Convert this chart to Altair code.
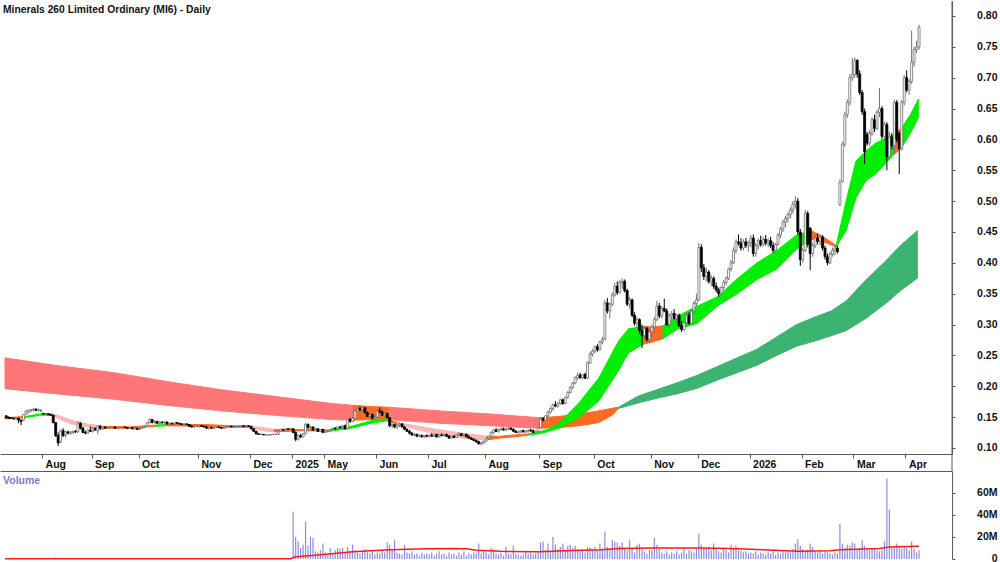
import altair as alt
import pandas as pd

TITLE = "Minerals 260 Limited Ordinary (MI6) - Daily"
MONTH_LABELS = ["Jul", "Aug", "Sep", "Oct", "Nov", "Dec", "2025", "May", "Jun", "Jul",
                "Aug", "Sep", "Oct", "Nov", "Dec", "2026", "Feb", "Mar", "Apr"]

# daily bars per month: (open, high, low, close, volume in millions)
JUL24 = [(.152,.153,.148,.149,.3),(.150,.151,.147,.148,.2),(.149,.150,.147,.148,.3),(.148,.149,.146,.147,.2),
         (.147,.149,.145,.148,.4),(.148,.149,.140,.145,.5),(.145,.146,.137,.143,.6),(.145,.155,.144,.154,.5),
         (.155,.161,.154,.160,.7),(.158,.162,.156,.161,.4),(.160,.163,.158,.162,.3),(.161,.165,.159,.163,.4),
         (.163,.164,.160,.161,.3),(.161,.164,.159,.162,.2),(.160,.163,.158,.161,.3)]
AUG24 = [(.156,.157,.154,.155,.3),(.155,.156,.154,.155,.2),(.155,.156,.153,.154,.3),(.154,.155,.152,.153,.4),
         (.153,.154,.140,.141,.8),(.141,.142,.118,.120,1.5),(.120,.125,.103,.108,1.2),(.110,.130,.108,.128,.9),
         (.128,.132,.118,.120,.6),(.121,.128,.117,.126,.5),(.126,.128,.122,.124,.4),(.124,.127,.121,.126,.3),
         (.125,.128,.123,.127,.3),(.127,.129,.124,.126,.4),(.126,.143,.125,.141,.8),(.140,.142,.130,.132,.6),
         (.132,.134,.124,.125,.5),(.125,.128,.122,.124,.4),(.124,.130,.123,.129,.3),(.129,.135,.126,.127,.4)]
SEP24 = [(.127,.134,.125,.132,.3),(.132,.133,.128,.129,.3),(.128,.137,.122,.135,.6),(.135,.137,.130,.131,.4),
         (.131,.135,.129,.134,.3),(.134,.135,.131,.132,.2),(.132,.134,.131,.133,.2),(.133,.134,.132,.133,.2),
         (.133,.135,.132,.134,.3),(.134,.135,.132,.132,.2),(.132,.134,.131,.133,.2),(.133,.134,.132,.133,.3),
         (.133,.135,.132,.134,.2),(.134,.135,.132,.133,.2),(.133,.134,.131,.132,.3),(.132,.134,.131,.133,.2),
         (.133,.134,.130,.131,.4),(.131,.133,.130,.132,.2),(.132,.133,.129,.130,.3)]
OCT24 = [(.130,.133,.129,.132,.3),(.132,.134,.131,.133,.2),(.133,.136,.132,.135,.3),(.135,.142,.134,.141,.6),
         (.141,.148,.140,.146,.8),(.146,.147,.140,.141,.5),(.141,.145,.139,.143,.3),(.143,.144,.139,.140,.3),
         (.140,.143,.138,.142,.2),(.142,.143,.139,.141,.2),(.141,.143,.139,.142,.3),(.142,.143,.138,.139,.2),
         (.139,.141,.138,.140,.2),(.140,.141,.138,.139,.3),(.139,.142,.138,.141,.2),(.141,.142,.139,.140,.2),
         (.140,.141,.138,.139,.3),(.139,.140,.137,.138,.2),(.138,.140,.137,.139,.2),(.139,.140,.137,.138,.3),
         (.138,.139,.134,.135,.4),(.135,.137,.133,.134,.3),(.134,.136,.133,.135,.2),(.135,.136,.134,.135,.2)]
NOV24 = [(.135,.137,.133,.136,.3),(.136,.137,.134,.135,.2),(.135,.136,.133,.134,.2),(.134,.136,.131,.132,.4),
         (.132,.134,.130,.133,.3),(.133,.135,.131,.132,.2),(.132,.134,.131,.133,.2),(.133,.135,.132,.134,.3),
         (.134,.135,.132,.133,.2),(.133,.134,.131,.132,.2),(.132,.134,.131,.133,.3),(.133,.135,.132,.134,.2),
         (.134,.136,.133,.135,.3),(.135,.136,.133,.134,.2),(.134,.135,.133,.134,.2),(.134,.136,.133,.135,.2),
         (.135,.136,.134,.135,.3),(.135,.137,.134,.136,.2),(.136,.137,.134,.135,.2),(.135,.137,.134,.136,.3),
         (.136,.137,.134,.135,.2)]
DEC24 = [(.135,.136,.130,.131,.5),(.131,.132,.126,.127,.4),(.127,.128,.122,.123,.4),(.123,.124,.121,.122,.3),
         (.122,.123,.121,.122,.2),(.122,.122,.121,.121,.2),(.121,.122,.121,.121,.2),(.121,.122,.120,.121,.2),
         (.121,.122,.121,.122,.2),(.122,.123,.121,.122,.2),(.122,.123,.121,.122,.3),(.122,.128,.122,.127,.5),
         (.127,.131,.126,.130,.4),(.130,.131,.128,.129,.3),(.129,.132,.128,.131,.3),(.131,.132,.129,.130,.2),
         (.130,.133,.129,.131,.3)]
JAN25 = [(.131,.132,.124,.125,43),(.125,.127,.111,.114,20),(.114,.122,.112,.120,16),(.120,.123,.116,.118,10),
         (.118,.124,.117,.123,13),(.123,.141,.122,.138,34),(.138,.140,.131,.133,12),(.133,.136,.130,.134,20),
         (.134,.135,.128,.129,19),(.129,.133,.127,.131,7),(.131,.132,.126,.127,6),(.127,.131,.126,.130,8),
         (.130,.131,.124,.125,14)]
MAY25 = [(.125,.128,.124,.127,6),(.127,.129,.125,.128,4),(.128,.131,.127,.130,10),(.130,.133,.129,.132,5),
         (.132,.134,.130,.131,8),(.131,.135,.130,.134,10),(.134,.136,.132,.133,9),(.133,.137,.132,.136,10),
         (.136,.138,.130,.131,6),(.131,.147,.130,.146,11),(.146,.149,.141,.143,7),(.143,.150,.142,.148,13),
         (.148,.163,.147,.160,8),(.160,.166,.158,.164,6),(.164,.167,.160,.162,5),(.162,.166,.159,.165,7),
         (.165,.166,.156,.157,9),(.157,.159,.150,.151,6),(.151,.156,.149,.154,5),(.154,.156,.146,.148,7),
         (.148,.152,.145,.150,4)]
JUN25 = [(.150,.163,.149,.160,6),(.160,.166,.157,.158,5),(.158,.161,.152,.153,8),(.153,.158,.151,.156,6),
         (.156,.157,.148,.149,15),(.149,.150,.134,.136,13),(.136,.140,.132,.138,8),(.138,.139,.132,.134,17),
         (.134,.138,.131,.137,6),(.137,.141,.134,.139,5),(.139,.140,.133,.134,4),(.134,.136,.129,.130,13),
         (.130,.132,.126,.127,6),(.127,.129,.122,.124,5),(.124,.126,.120,.121,7),(.121,.124,.119,.122,4),
         (.122,.123,.118,.119,5),(.119,.122,.117,.120,3),(.120,.122,.117,.118,6),(.118,.121,.116,.120,4),
         (.120,.122,.117,.119,5)]
JUL25 = [(.119,.122,.117,.121,4),(.121,.124,.118,.119,6),(.119,.123,.118,.122,3),(.122,.123,.117,.118,5),
         (.118,.122,.117,.121,7),(.121,.124,.119,.120,4),(.120,.123,.118,.122,5),(.122,.123,.118,.119,3),
         (.119,.121,.115,.116,6),(.116,.120,.115,.119,4),(.119,.121,.116,.117,5),(.117,.122,.116,.121,3),
         (.121,.125,.119,.123,6),(.123,.124,.119,.120,4),(.120,.123,.118,.122,7),(.122,.123,.117,.118,3),
         (.118,.121,.115,.116,5),(.116,.118,.113,.114,4),(.114,.116,.111,.112,6),(.112,.114,.108,.110,5),
         (.110,.112,.105,.107,14),(.107,.110,.104,.108,5),(.108,.112,.106,.111,7)]
AUG25 = [(.111,.116,.110,.115,6),(.115,.119,.113,.118,4),(.118,.127,.117,.125,10),(.125,.131,.123,.129,9),
         (.129,.132,.126,.127,5),(.127,.131,.125,.130,4),(.130,.133,.128,.131,6),(.131,.133,.128,.129,3),
         (.129,.132,.127,.131,11),(.131,.134,.129,.132,5),(.132,.134,.129,.130,4),(.130,.132,.126,.127,12),
         (.127,.129,.124,.125,5),(.125,.128,.123,.126,4),(.126,.129,.124,.128,3),(.128,.130,.125,.126,4),
         (.126,.129,.124,.127,7),(.127,.130,.125,.129,5),(.129,.131,.126,.128,6),(.128,.130,.124,.125,4),
         (.125,.128,.123,.127,5),(.127,.134,.126,.133,7)]
SEP25 = [(.133,.149,.132,.147,15),(.147,.150,.143,.145,16),(.145,.153,.144,.152,8),(.152,.160,.150,.158,14),
         (.158,.166,.156,.164,7),(.164,.172,.160,.170,20),(.170,.176,.166,.168,13),(.168,.174,.165,.172,9),
         (.172,.180,.170,.178,11),(.178,.180,.170,.172,14),(.172,.183,.171,.182,8),(.182,.192,.180,.190,12),
         (.190,.200,.188,.198,13),(.198,.207,.195,.205,10),(.205,.216,.203,.214,12),(.214,.222,.210,.218,9),
         (.218,.222,.212,.214,7),(.214,.220,.211,.219,8),(.219,.222,.212,.213,6),(.213,.240,.212,.238,11),
         (.238,.256,.236,.252,10),(.252,.260,.248,.257,9)]
OCT25 = [(.257,.266,.254,.264,11),(.264,.268,.256,.259,8),(.259,.274,.258,.272,14),(.272,.280,.268,.276,9),
         (.276,.340,.275,.335,25),(.335,.343,.318,.322,11),(.322,.336,.310,.333,9),(.333,.352,.330,.348,17),
         (.348,.368,.345,.362,16),(.362,.370,.348,.352,15),(.352,.372,.350,.368,12),(.368,.375,.358,.370,15),
         (.370,.373,.352,.355,9),(.355,.358,.330,.333,8),(.333,.345,.326,.340,17),(.340,.342,.312,.315,10),
         (.315,.320,.298,.302,6),(.302,.312,.295,.308,13),(.308,.310,.285,.290,14),(.290,.300,.262,.282,9),
         (.282,.298,.275,.294,7),(.294,.296,.272,.276,5),(.276,.292,.270,.288,8)]
NOV25 = [(.288,.300,.280,.296,8),(.296,.312,.292,.308,19),(.308,.338,.305,.330,13),(.330,.335,.310,.314,9),
         (.314,.330,.310,.326,6),(.326,.342,.320,.322,5),(.322,.326,.298,.300,7),(.300,.318,.296,.315,4),
         (.315,.322,.306,.318,6),(.318,.325,.308,.310,5),(.310,.318,.302,.315,7),(.315,.318,.296,.298,4),
         (.298,.305,.288,.292,6),(.292,.306,.289,.303,10),(.303,.318,.300,.315,5),(.315,.320,.300,.302,8),
         (.302,.325,.300,.322,7),(.322,.338,.318,.334,6),(.334,.350,.330,.340,9)]
DEC25 = [(.340,.432,.338,.425,23),(.425,.430,.385,.392,13),(.392,.398,.372,.378,10),(.378,.392,.370,.385,9),
         (.385,.388,.366,.370,11),(.370,.380,.362,.375,8),(.375,.378,.358,.362,14),(.362,.368,.352,.356,9),
         (.356,.360,.345,.350,7),(.350,.362,.347,.360,6),(.360,.372,.356,.368,10),(.368,.378,.364,.375,8),
         (.375,.392,.372,.390,6),(.390,.405,.386,.400,13),(.400,.425,.398,.420,9),(.420,.438,.415,.434,12),
         (.434,.446,.428,.432,8),(.432,.440,.420,.424,7),(.424,.438,.420,.434,6),(.434,.440,.424,.428,7),
         (.428,.436,.418,.432,5)]
JAN26 = [(.432,.445,.425,.440,6),(.440,.446,.410,.415,5),(.415,.432,.410,.428,7),(.428,.440,.422,.436,4),
         (.436,.444,.426,.430,6),(.430,.442,.426,.438,5),(.438,.445,.428,.432,4),(.432,.440,.425,.436,6),
         (.436,.442,.424,.428,5),(.428,.434,.416,.420,7),(.420,.432,.416,.430,4),(.430,.448,.428,.445,6),
         (.445,.458,.440,.455,5),(.455,.470,.450,.466,7),(.466,.476,.458,.472,6),(.472,.482,.465,.478,8),
         (.478,.490,.472,.486,6),(.486,.500,.480,.495,9),(.495,.508,.488,.500,14),(.500,.505,.445,.450,18),
         (.450,.455,.395,.405,12)]
FEB26 = [(.405,.425,.400,.420,9),(.420,.486,.418,.480,7),(.480,.484,.425,.430,8),(.456,.458,.388,.415,14),
         (.415,.432,.410,.428,11),(.428,.445,.424,.440,7),(.440,.448,.430,.435,6),(.435,.446,.428,.442,8),
         (.442,.445,.420,.424,5),(.424,.428,.405,.410,7),(.410,.415,.396,.400,6),(.400,.418,.398,.414,5),
         (.414,.425,.410,.420,4),(.420,.428,.412,.424,6),(.424,.428,.415,.418,5),(.495,.535,.492,.530,32),
         (.532,.596,.530,.592,14),(.592,.645,.588,.640,10),(.640,.665,.635,.660,13),(.660,.705,.655,.700,12),
         (.700,.732,.695,.705,15)]
MAR26 = [(.705,.733,.700,.728,14),(.728,.730,.700,.706,9),(.706,.712,.672,.676,10),(.676,.680,.640,.645,17),
         (.645,.650,.560,.580,12),(.608,.612,.590,.594,10),(.594,.615,.590,.610,8),(.610,.636,.606,.632,10),
         (.632,.640,.612,.618,9),(.618,.648,.615,.644,8),(.644,.683,.636,.650,7),(.650,.654,.600,.605,8),
         (.605,.628,.598,.624,16),(.624,.628,.550,.572,73),(.572,.612,.568,.604,45),(.604,.610,.584,.590,11),
         (.590,.664,.576,.660,10),(.660,.664,.595,.600,14),(.610,.612,.544,.585,12),(.585,.664,.582,.660,9),
         (.660,.704,.655,.700,11)]
APR26 = [(.700,.712,.676,.680,10),(.680,.698,.672,.694,8),(.694,.776,.690,.725,16),(.725,.750,.718,.746,9),
         (.746,.760,.740,.750,6),(.750,.786,.745,.782,8)]

MONTHS = [JUL24, AUG24, SEP24, OCT24, NOV24, DEC24, JAN25, MAY25, JUN25, JUL25, AUG25,
          SEP25, OCT25, NOV25, DEC25, JAN26, FEB26, MAR26, APR26]

# short-term ribbon: (state, [(bar index, upper, lower), ...])
ST_SEGMENTS = [
    ("mixed", [(-0.5, .149, .147), (7.5, .151, .149)]),
    ("up", [(7.5, .151, .149), (13.5, .155, .153), (18.3, .156, .153)]),
    ("down", [(18.3, .156, .153), (21.5, .152, .147), (26.3, .145, .139), (32.7, .139, .134), (39.5, .135, .132)]),
    ("mixed", [(39.5, .135, .132), (49.5, .134, .132), (60.3, .137, .135)]),
    ("up", [(60.3, .137, .135), (64.7, .138, .136)]),
    ("mixed", [(64.7, .138, .136), (79.5, .138, .135), (98.3, .135, .133)]),
    ("down", [(98.3, .135, .133), (103.5, .133, .128), (108.3, .130, .126)]),
    ("mixed", [(108.3, .130, .126), (119.5, .130, .128), (130.7, .129, .127)]),
    ("up", [(130.7, .129, .127), (139.5, .135, .132), (147.5, .144, .140), (153.9, .147, .144)]),
    ("mixed", [(153.9, .147, .144), (158.3, .141, .138)]),
    ("down", [(158.3, .141, .138), (172.7, .131, .123), (186.3, .123, .115), (194.3, .119, .113)]),
    ("mixed", [(194.3, .119, .113), (199.5, .119, .116), (205.5, .121, .118), (211.5, .123, .121)]),
    ("up", [(211.5, .123, .121), (215.5, .126, .123), (219.5, .131, .127), (223.5, .140, .132),
            (231.5, .173, .149), (239.5, .213, .176), (247.5, .273, .225), (251.5, .293, .254), (257.5, .297, .268)]),
    ("mixed", [(257.5, .297, .268), (261.5, .296, .272), (265.5, .298, .277)]),
    ("up", [(265.5, .298, .277), (271.5, .314, .293), (279.5, .330, .302), (287.5, .345, .330),
            (295.5, .374, .350), (303.5, .400, .373), (311.5, .420, .390), (319.5, .445, .422), (325.5, .452, .438)]),
    ("mixed", [(325.5, .452, .438), (331.5, .439, .432), (335.5, .428, .426)]),
    ("up", [(335.5, .428, .426), (339.5, .500, .452), (343.5, .565, .505), (347.5, .581, .533),
            (351.5, .594, .544), (358.7, .608, .575)]),
    ("mixed", [(358.7, .608, .575), (361.9, .618, .586)]),
    ("up", [(361.9, .618, .586), (365.5, .640, .610), (368.7, .665, .635)]),
]

# long-term ribbon
LT_SEGMENTS = [
    ("down", [(-0.5, .246, .196), (19.5, .234, .188), (43.5, .222, .179), (67.5, .206, .168), (87.5, .194, .160),
              (111.5, .182, .152), (131.5, .172, .146), (140.3, .169, .145)]),
    ("mixed", [(140.3, .169, .145), (147.5, .167, .146), (154.7, .166, .146)]),
    ("down", [(154.7, .166, .146), (175.5, .160, .140), (195.5, .155, .136), (215.5, .149, .132)]),
    ("mixed", [(215.5, .149, .132), (223.5, .151, .133), (231.5, .155, .136), (239.5, .160, .141),
               (244.5, .164, .152), (247.5, .166, .164)]),
    ("up", [(247.5, .166, .164), (255.5, .184, .173), (263.5, .195, .181), (271.5, .206, .188), (279.5, .218, .197),
            (287.5, .232, .210), (295.5, .246, .222), (303.5, .260, .234), (311.5, .280, .250), (319.5, .300, .265),
            (327.5, .313, .274), (333.5, .322, .282), (339.5, .338, .290), (347.5, .372, .310), (355.5, .403, .334),
            (361.5, .428, .355), (368.3, .452, .375)]),
]

# volume moving average (millions), knots
VOL_MA = [(-0.5, .3), (115, .3), (117, 2.0), (125, 3.5), (140, 6.5), (155, 8.5), (170, 9.3), (180, 9.5),
          (186, 9.3), (190, 8.0), (200, 7.0), (215, 6.5), (226, 7.5), (240, 8.5), (248, 9.5), (260, 10.0),
          (280, 10.0), (293, 9.5), (306, 8.5), (320, 7.0), (333, 7.5), (337, 8.5), (353, 9.5), (357, 11.0),
          (369, 11.5)]

PRICE_TICKS = [0.10, 0.15, 0.20, 0.25, 0.30, 0.35, 0.40, 0.45, 0.50, 0.55, 0.60, 0.65, 0.70, 0.75, 0.80]
VOL_TICKS = [0, 20, 40, 60]

# ---------- build tables ----------
rows, starts, k = [], [], 0
for m in MONTHS:
    starts.append(k)
    for (o, h, l, c, v) in m:
        rows.append(dict(i=k, o=o, h=h, l=l, c=c, v=v, dir="up" if c >= o else "down"))
        k += 1
bars = pd.DataFrame(rows)
tick_vals = [s - 0.5 for s in starts[1:]]
tick_names = MONTH_LABELS[1:]


def ribbon(segs, prefix):
    out = []
    for n, (state, pts) in enumerate(segs):
        for (i, t, b) in pts:
            out.append(dict(i=i, top=t, bot=b, seg=f"{prefix}{n}", state=f"{prefix}_{state}"))
    return pd.DataFrame(out)


rib = pd.concat([ribbon(LT_SEGMENTS, "lt"), ribbon(ST_SEGMENTS, "st")], ignore_index=True)
ma = pd.DataFrame(VOL_MA, columns=["i", "ma"])

FONT = "Liberation Sans, Arial, sans-serif"
FS = 10.5
AXC = "#5a5a5a"

xs = alt.Scale(domain=[-0.5, 380.3], nice=False, zero=False)
ys = alt.Scale(domain=[0.0902, 0.8243], nice=False, zero=False)
vs = alt.Scale(domain=[0, 80], nice=False, zero=False)

label_expr = ("[" + ",".join(f"'{n}'" for n in tick_names) + "][indexof([" +
              ",".join(str(v) for v in tick_vals) + "], datum.value)]")

xaxis = alt.Axis(values=tick_vals, labelExpr=label_expr, orient="bottom", title=None, grid=False,
                 labelAlign="left", labelOffset=3, labelBaseline="top", labelPadding=1, tickSize=4,
                 labelFont=FONT, labelFontSize=FS, labelFontWeight="bold", labelColor="#111",
                 domainColor=AXC, tickColor=AXC, labelOverlap=False, labelFlush=False, labelBound=False)
yaxis = alt.Axis(values=PRICE_TICKS, format=".2f", orient="right", title=None, grid=False,
                 tickSize=3, labelPadding=42, labelAlign="right", labelBaseline="middle",
                 labelFont=FONT, labelFontSize=FS, labelFontWeight="bold", labelColor="#111",
                 domainColor=AXC, tickColor=AXC, labelOverlap=False, labelFlush=False, labelBound=False)

state_scale = alt.Scale(
    domain=["lt_down", "lt_mixed", "lt_up", "st_down", "st_mixed", "st_up"],
    range=["#ff7676", "#ff6a22", "#3cb371", "#ffb6b6", "#ff6a22", "#00ee00"])

areas = alt.Chart(rib).mark_area(strokeWidth=1, opacity=1).encode(
    x=alt.X("i:Q", scale=xs, axis=xaxis),
    y=alt.Y("top:Q", scale=ys, axis=yaxis),
    y2="bot:Q",
    color=alt.Color("state:N", scale=state_scale, legend=None),
    stroke=alt.Stroke("state:N", scale=state_scale, legend=None),
    detail="seg:N",
)

is_up = alt.datum.dir == "up"
wicks = alt.Chart(bars).mark_rule(strokeWidth=1).encode(
    x=alt.X("i:Q", scale=xs, axis=xaxis),
    y=alt.Y("l:Q", scale=ys, axis=yaxis),
    y2="h:Q",
    color=alt.when(is_up).then(alt.value("#707070")).otherwise(alt.value("#000000")),
)
bodies = alt.Chart(bars).mark_bar(width=2, strokeWidth=0.8).encode(
    x=alt.X("i:Q", scale=xs, axis=xaxis),
    y=alt.Y("o:Q", scale=ys, axis=yaxis),
    y2="c:Q",
    fill=alt.when(is_up).then(alt.value("#ffffff")).otherwise(alt.value("#000000")),
    stroke=alt.when(is_up).then(alt.value("#707070")).otherwise(alt.value("#000000")),
)
title = alt.Chart(pd.DataFrame({"t": [TITLE]})).mark_text(
    align="left", baseline="alphabetic", font=FONT, fontSize=10.3, fontWeight="bold", color="#111"
).encode(text="t:N", x=alt.value(3), y=alt.value(12))
edge = alt.Chart(pd.DataFrame({"a": [0]})).mark_rule(color=AXC, strokeWidth=1).encode(
    x=alt.value(952), y=alt.value(0), y2=alt.value(470))

price = alt.layer(areas, wicks, bodies, title, edge).properties(width=952, height=453)

vxaxis = alt.Axis(orient="top", labels=False, ticks=False, title=None, grid=False, domainColor=AXC)
vyaxis = alt.Axis(values=VOL_TICKS, orient="right", title=None, grid=False,
                  labelExpr="datum.value == 0 ? '0' : datum.value + 'M'",
                  tickSize=3, labelPadding=42, labelAlign="right", labelBaseline="middle", labelOffset=-1,
                  labelFont=FONT, labelFontSize=FS, labelFontWeight="bold", labelColor="#111",
                  domainColor=AXC, tickColor=AXC, labelOverlap=False, labelFlush=False, labelBound=False)

vbars = alt.Chart(bars).mark_bar(width=1.2, color="#8c8cdc").encode(
    x=alt.X("i:Q", scale=xs, axis=vxaxis),
    y=alt.Y("v:Q", scale=vs, axis=vyaxis),
)
vline = alt.Chart(ma).mark_line(color="#ff1a1a", strokeWidth=1.5).encode(
    x=alt.X("i:Q", scale=xs, axis=vxaxis),
    y=alt.Y("ma:Q", scale=vs, axis=vyaxis),
)
vtitle = alt.Chart(pd.DataFrame({"t": ["Volume"]})).mark_text(
    align="left", baseline="alphabetic", font=FONT, fontSize=10.5, fontWeight="bold", color="#7c7cc6"
).encode(text="t:N", x=alt.value(3), y=alt.value(13))

volume = alt.layer(vbars, vline, vtitle).properties(width=952, height=88)

chart = alt.vconcat(price, volume, spacing=17, bounds="flush").properties(
    padding={"left": 0, "top": 0, "right": 3, "bottom": 4}
).configure_view(stroke=None)

chart.save("out.html", embed_options={"renderer": "svg", "actions": False})
